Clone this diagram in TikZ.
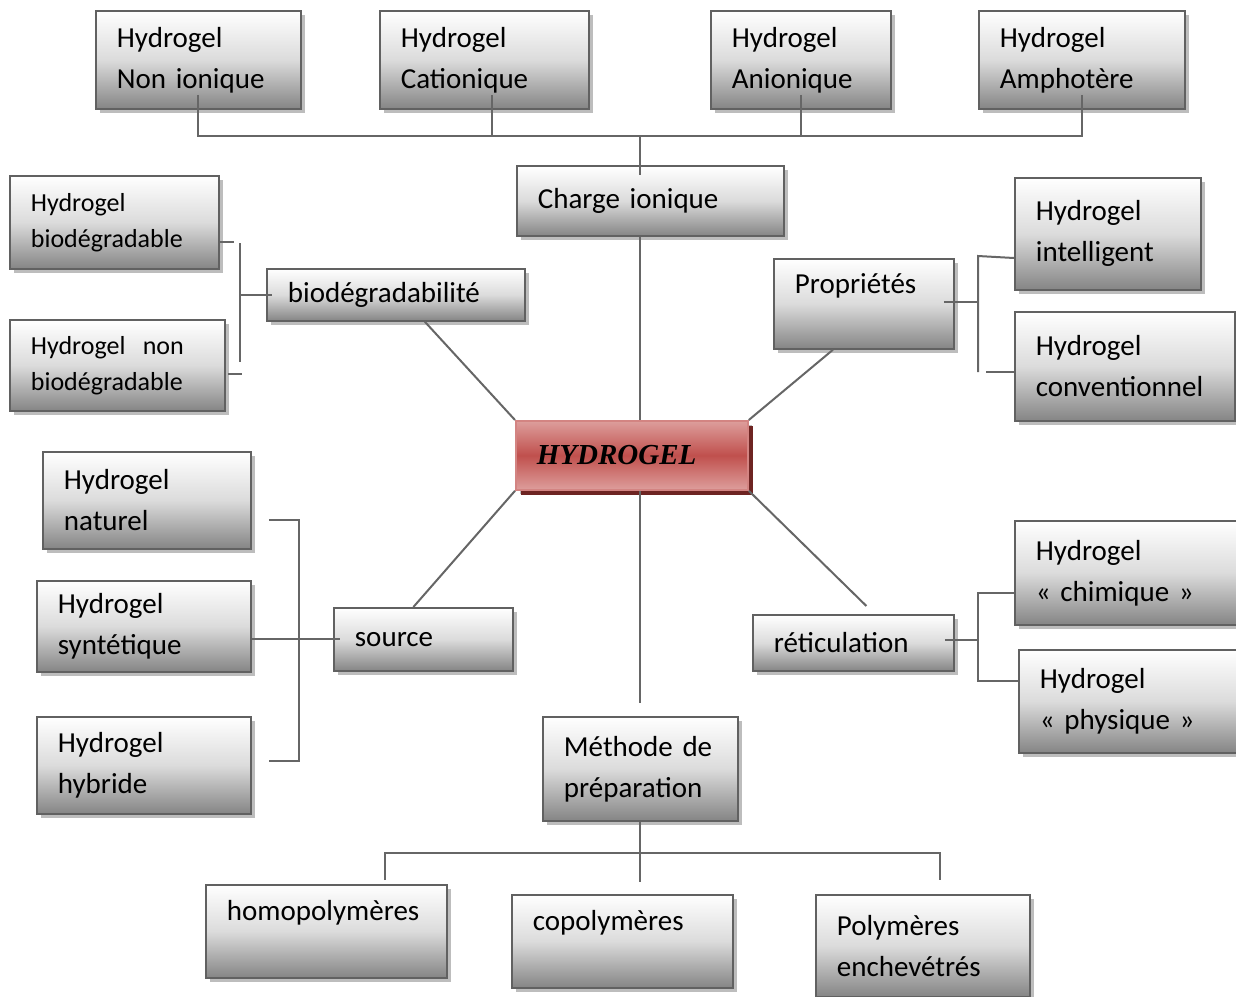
\documentclass[tikz,border=0pt]{standalone}
\usepackage{fontspec}
\setmainfont{Carlito}
\newfontfamily\titlefont{Liberation Serif}
\usetikzlibrary{shadows,calc}
\definecolor{hred}{HTML}{C0504D}
\definecolor{hredl}{HTML}{DD9E9C}
\definecolor{hredd}{HTML}{6E2422}
\tikzset{gbox/.style={anchor=north west,align=left,draw=black!62,line width=1.8pt,top color=white,bottom color=black!48,middle color=black!14,drop shadow={shadow xshift=4pt,shadow yshift=-4pt,fill=black!26,opacity=1},inner xsep=21pt,inner ysep=0pt,font=\fontsize{29}{41}\selectfont},
 sz/.style 2 args={minimum width=#1pt,minimum height=#2pt,text width=#1pt-42pt},
 small/.style={font=\fontsize{26}{36}\selectfont},
 hbox/.style={gbox,draw=hred!70,top color=hredl,bottom color=hredl,middle color=hred,drop shadow={shadow xshift=5pt,shadow yshift=-5pt,fill=hredd,opacity=1},font=\fontsize{29}{41}\selectfont\titlefont\bfseries\itshape},
 conn/.style={draw=black!60,line width=2pt}}

\begin{document}
\begin{tikzpicture}[x=1pt,y=-1pt]
\useasboundingbox (0,0) rectangle (1236,996);
% charge ionique
\node[gbox,sz={205}{98}] (nonion) at (95,10) {Hydrogel\\Non ionique};
\node[gbox,sz={209}{98}] (cation) at (379,10) {Hydrogel\\Cationique};
\node[gbox,sz={180}{98}] (anion) at (710,10) {Hydrogel\\Anionique};
\node[gbox,sz={206}{98}] (ampho) at (978,10) {Hydrogel\\Amphotère};
\node[gbox,sz={267}{70}] (charge) at (516,165) {Charge ionique};
% biodegradabilite
\node[gbox,small,sz={209}{93}] (biodeg) at (9,175) {Hydrogel\\biodégradable};
\node[gbox,small,sz={215}{91}] (nbiodeg) at (9,319) {Hydrogel\ \ non\\biodégradable};
\node[gbox,sz={258}{52}] (biodegr) at (266,268) {biodégradabilité};
% proprietes
\node[gbox,sz={180}{90}] (propr) at (773,258) {Propriétés\\\mbox{}};
\node[gbox,sz={186}{112}] (intel) at (1014,177) {Hydrogel\\intelligent};
\node[gbox,sz={220}{109}] (conv) at (1014,311) {Hydrogel\\conventionnel};
% centre
\node[hbox,sz={232}{69}] (hydrogel) at (515,420) {HYDROGEL};
% source
\node[gbox,sz={208}{97}] (natur) at (42,451) {Hydrogel\\naturel};
\node[gbox,sz={214}{91}] (synth) at (36,580) {Hydrogel\\syntétique};
\node[gbox,sz={214}{97}] (hybr) at (36,716) {Hydrogel\\hybride};
\node[gbox,sz={179}{63}] (source) at (333,607) {source};
% reticulation
\node[gbox,sz={201}{56}] (retic) at (752,614) {réticulation};
\node[gbox,sz={222}{104}] (chim) at (1014,520) {Hydrogel\\«~chimique~»};
\node[gbox,sz={218}{103}] (phys) at (1018,649) {Hydrogel\\«~physique~»};
% methode
\node[gbox,sz={195}{104}] (methode) at (542,716) {Méthode de\\préparation};
\node[gbox,sz={241}{93}] (homo) at (205,884) {homopolymères\\\mbox{}};
\node[gbox,sz={221}{93}] (copo) at (511,894) {copolymères\\\mbox{}};
\node[gbox,sz={214}{102}] (enchev) at (815,894) {Polymères\\enchevétrés};

% connecteurs
\coordinate (ionbus) at (640,136);
\draw[conn] ([yshift=15pt]nonion.south) |- (ionbus);
\draw[conn] ([yshift=15pt]ampho.south) |- (ionbus);
\draw[conn] ([yshift=15pt,xshift=8pt]cation.south) -- ([xshift=8pt]cation.south |- ionbus);
\draw[conn] ([yshift=15pt]anion.south) -- (anion.south |- ionbus);
\draw[conn] (ionbus) -- ($(charge.north -| ionbus)+(0,10)$);
\draw[conn] (charge.south -| ionbus) -- (hydrogel.north -| ionbus);
\draw[conn] (hydrogel.south -| ionbus) -- ($(methode.north -| ionbus)+(0,-13)$);

\draw[conn] (hydrogel.north west) -- ($(biodegr.south)+(29,0)$);
\draw[conn] (hydrogel.north east) -- ($(propr.south)+(-31,0)$);
\draw[conn] (hydrogel.south west) -- ($(source.north)+(-10,0)$);
\draw[conn] (hydrogel.south east) -- ($(retic.north)+(13,-8)$);

\coordinate (bdtop) at (240,243);
\coordinate (bdbot) at (240,362);
\draw[conn] (bdtop) -- (bdbot);
\draw[conn] ($(biodeg.east)+(0,20)$) -- ++(14,0);
\draw[conn] ($(nbiodeg.east)+(2,9)$) -- ++(14,0);
\draw[conn] (bdtop |- biodegr.west) -- ($(biodegr.west)+(6,0)$);

\coordinate (prtop) at (978,256);
\coordinate (prbot) at (978,372);
\draw[conn] ($(propr.east)+(-11,-2)$) -- ($(propr.east -| prtop)+(0,-2)$);
\draw[conn] ($(intel.west |- prtop)+(0,2)$) -- (prtop) -- (prbot);
\draw[conn] ($(prbot)+(8,0)$) -- (conv.west |- prbot);

\coordinate (srctop) at (299,520);
\coordinate (srcbot) at (299,761);
\draw[conn] ($(natur.east |- srctop)+(17,0)$) -- (srctop) -- (srcbot) -- ($(hybr.east |- srcbot)+(17,0)$);
\draw[conn] (synth.east |- source.west) -- ($(source.west)+(7,0)$);

\coordinate (rttop) at (978,593);
\coordinate (rtbot) at (978,681);
\draw[conn] ($(retic.east)+(-10,-3)$) -- ($(retic.east -| rttop)+(0,-3)$);
\draw[conn] (chim.west |- rttop) -- (rttop) -- (rtbot) -- (phys.west |- rtbot);

\coordinate (prepbus) at (640,853);
\coordinate (busL) at (385,853);
\coordinate (busR) at (940,853);
\draw[conn] (methode.south -| prepbus) -- ($(copo.north -| prepbus)+(0,-12)$);
\draw[conn] ($(homo.north -| busL)+(0,-4)$) |- (busR) -- ($(enchev.north -| busR)+(0,-14)$);
\end{tikzpicture}
\end{document}
